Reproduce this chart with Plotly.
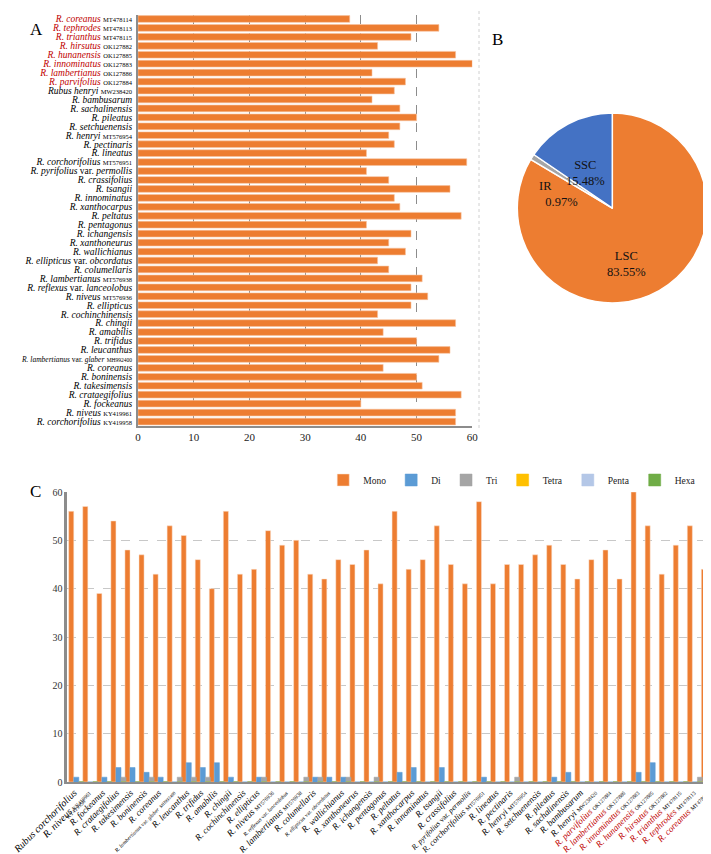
import plotly.graph_objects as go

# ---------------- data (order = panel C, left to right; panel A bottom to top) -------------
species = [
    "R. corchorifolius", "R. niveus", "R. fockeanus", "R. crataegifolius", "R. takesimensis",
    "R. boninensis", "R. coreanus", "R. lambertianus var. glaber", "R. leucanthus", "R. trifidus",
    "R. amabilis", "R. chingii", "R. cochinchinensis", "R. ellipticus", "R. niveus",
    "R. reflexus var. lanceolobus", "R. lambertianus", "R. columellaris", "R. ellipticus var. obcordatus",
    "R. wallichianus", "R. xanthoneurus", "R. ichangensis", "R. pentagonus", "R. peltatus",
    "R. xanthocarpus", "R. innominatus", "R. tsangii", "R. crassifolius", "R. pyrifolius var. permollis",
    "R. corchorifolius", "R. lineatus", "R. pectinaris", "R. henryi", "R. setchuenensis",
    "R. pileatus", "R. sachalinensis", "R. bambusarum", "R. henryi", "R. parvifolius",
    "R. lambertianus", "R. innominatus", "R. hunanensis", "R. hirsutus", "R. trianthus",
    "R. tephrodes", "R. coreanus",
]
accession = [
    "KY419958", "KY419961", "", "", "", "", "", "MH992400", "", "",
    "", "", "", "", "MT576936", "", "MT576938", "", "", "",
    "", "", "", "", "", "", "", "", "", "MT576951",
    "", "", "MT576954", "", "", "", "", "MW238420", "OK127884", "OK127886",
    "OK127883", "OK127885", "OK127882", "MT478115", "MT478113", "MT478114",
]
this_study = ["OK127884", "OK127886", "OK127883", "OK127885", "OK127882",
              "MT478115", "MT478113", "MT478114"]
name_a_override = {37: "Rubus henryi"}
name_c_override = {0: "Rubus corchorifolius", 37: "R. henryi"}

# Panel A: total SSR number
total_ssr = [57, 57, 40, 58, 51, 50, 44, 54, 56, 50, 44, 57, 43, 49, 52, 49, 51, 45, 43, 48,
             45, 49, 41, 58, 47, 46, 56, 45, 41, 59, 41, 46, 45, 47, 50, 47, 42, 46, 48, 42,
             60, 57, 43, 49, 54, 38]

# Panel C: SSR types
mono = [56, 57, 39, 54, 48, 47, 43, 53, 51, 46, 40, 56, 43, 44, 52, 49, 50, 43, 42, 46,
        45, 48, 41, 56, 44, 46, 53, 45, 41, 58, 41, 45, 45, 47, 49, 45, 42, 46, 48, 42,
        60, 53, 43, 49, 53, 44]
di = [1, 0, 1, 3, 3, 2, 1, 0, 4, 3, 4, 1, 0, 1, 0, 0, 0, 1, 1, 1,
      0, 0, 0, 2, 3, 0, 3, 0, 0, 1, 0, 0, 0, 0, 1, 2, 0, 0, 0, 0,
      2, 4, 0, 0, 0, 0]
tri = [0, 0, 0, 1, 0, 1, 0, 1, 1, 1, 0, 0, 0, 1, 0, 0, 1, 1, 0, 1,
       0, 1, 0, 0, 0, 0, 0, 0, 0, 0, 0, 1, 0, 0, 0, 0, 0, 0, 0, 0,
       0, 0, 0, 0, 1, 0]
tetra = [0, 0, 0, 0, 0, 0, 0, 0, 0, 0, 0, 0, 0, 0, 0, 0, 0, 0, 0, 0,
         0, 0, 0, 0, 0, 0, 0, 0, 0, 0, 0, 0, 0, 0, 0, 0, 0, 0, 0, 0,
         0, 0, 0, 0, 0, 0]
penta = list(tetra)
hexa = list(tetra)

# Panel B: regions
regions = ["LSC", "IR", "SSC"]
region_pct = [83.55, 0.97, 15.48]

# ---------------- styling ----------------
SERIF = "Liberation Serif"
ORANGE = "#ED7D31"
RED = "#C00000"
W, H = 711, 854

ids = [f"{s}|{a}" for s, a in zip(species, accession)]

# per-label font sizes in panel C (original figure mixes sizes)
c_size = [10, 10, 9, 9, 9, 9, 9, 5.5, 9, 9,
          9, 9, 9, 9, 9.5, 5.5, 9, 9, 5.5, 9,
          9, 9, 9, 9, 9, 9, 9, 9, 7.5, 8.5,
          9, 9, 9, 9, 9, 9, 9, 9, 9, 9,
          9, 9, 9, 9, 9, 9]
# per-label font sizes in panel A
a_size = [9.5 if " var. glaber" not in s else 7.5 for s in species]


def fmt_name(sp):
    if " var. " in sp:
        a, b = sp.split(" var. ")
        return f"<i>{a}</i> var. <i>{b}</i>"
    return f"<i>{sp}</i>"


def make_label(sp, acc, size, acc_size, red, newline=False):
    nm = fmt_name(sp)
    if red:
        nm = f"<span style='color:{RED}'>{nm}</span>"
    txt = f"<span style='font-size:{size}px'>{nm}</span>"
    if acc:
        sep = "<br>" if newline else " "
        txt += f"{sep}<span style='font-size:{acc_size}px'>{acc}</span>"
    return txt


labels_a = []
labels_c = []
for i, (sp, acc) in enumerate(zip(species, accession)):
    red = acc in this_study
    labels_a.append(make_label(name_a_override.get(i, sp), acc, a_size[i],
                               6.5 if a_size[i] > 8 else 5.5, red))
    labels_c.append(make_label(name_c_override.get(i, sp), acc, c_size[i],
                               5.5 if c_size[i] > 7 else 4.5, red, newline=(i == 0)))

fig = go.Figure()

# Panel A
fig.add_trace(go.Bar(
    x=total_ssr, y=ids, orientation="h", xaxis="x", yaxis="y",
    marker=dict(color=ORANGE, line=dict(color="#F6C3A0", width=0.6)),
    showlegend=False, hoverinfo="x+y",
))

# Panel B
fig.add_trace(go.Pie(
    labels=regions, values=region_pct, sort=False, direction="clockwise", rotation=0,
    marker=dict(colors=[ORANGE, "#A5A5A5", "#4472C4"], line=dict(color="white", width=1.5)),
    textinfo="none", showlegend=False,
    domain=dict(x=[509.3 / W, 699.3 / W], y=[1 - 295 / H, 1 - 105 / H]),
))

# Panel C
series = [("Mono", mono, ORANGE), ("Di", di, "#5B9BD5"), ("Tri", tri, "#A5A5A5"),
          ("Tetra", tetra, "#FFC000"), ("Penta", penta, "#B4C7E7"), ("Hexa", hexa, "#70AD47")]
bw = 0.36
offs = [-0.40, -0.04, 0.32, 0.32, 0.32, 0.32]
for (nm, vals, col), off in zip(series, offs):
    fig.add_trace(go.Bar(
        x=ids, y=vals, name=nm, xaxis="x2", yaxis="y2",
        width=bw, offset=off,
        marker=dict(color=col, line=dict(color="#FBE1CF" if nm == "Mono" else col, width=0.5)),
    ))

grid_grey = "#8C8C8C"
fig.update_layout(
    width=W, height=H,
    margin=dict(l=0, r=0, t=0, b=0),
    paper_bgcolor="white", plot_bgcolor="rgba(0,0,0,0)",
    barmode="overlay", bargap=0.25,
    font=dict(family=SERIF, color="black", size=10),
    xaxis=dict(domain=[130 / W, 464.3 / W], range=[0, 60], dtick=10, tick0=0,
               showgrid=True, gridcolor=grid_grey, griddash="dash", gridwidth=1,
               showline=True, linecolor=grid_grey, linewidth=1.5, zeroline=False,
               ticks="", tickfont=dict(family=SERIF, size=11, color="#222"),
               anchor="y", automargin=False, fixedrange=True),
    yaxis=dict(domain=[1 - 418 / H, 1 - 6.5 / H], type="category",
               categoryorder="array", categoryarray=ids, range=[-0.5, 45.5],
               tickmode="array", tickvals=ids, ticktext=labels_a,
               showline=True, linecolor=grid_grey, linewidth=2, showgrid=False,
               ticks="", ticklabelstandoff=2,
               tickfont=dict(family=SERIF, size=9.5, color="black"),
               anchor="x", automargin=False, fixedrange=True),
    xaxis2=dict(domain=[59.3 / W, 706 / W], type="category",
                categoryorder="array", categoryarray=ids, range=[-0.5, 45.5],
                tickmode="array", tickvals=ids, ticktext=labels_c, tickangle=-45,
                showline=True, linecolor=grid_grey, linewidth=2, showgrid=False,
                ticks="", ticklabelstandoff=0, tickfont=dict(family=SERIF, size=9, color="black"),
                anchor="y2", automargin=False, fixedrange=True),
    yaxis2=dict(domain=[1 - 774 / H, 1 - 484 / H], range=[0, 60], dtick=10, tick0=0,
                showgrid=True, gridcolor="#C8C8C8", griddash="dash", gridwidth=1,
                showline=True, linecolor=grid_grey, linewidth=2.5, zeroline=False,
                ticks="", tickfont=dict(family=SERIF, size=10, color="#333"),
                anchor="x2", automargin=False, fixedrange=True),
    legend=dict(orientation="h", x=0.975, xanchor="right", y=1 - 472 / H, yanchor="middle",
                font=dict(family=SERIF, size=9.5, color="#222"), bgcolor="rgba(0,0,0,0)",
                itemwidth=30, tracegroupgap=0),
    shapes=[dict(type="line", xref="paper", yref="paper", x0=471 / W, x1=471 / W,
                 y0=1 - 420 / H, y1=1, line=dict(color="#D0D0D0", width=1, dash="dot"))],
)

ann = []
for txt, x, y in [("A", 20, 10), ("B", 497, 20), ("C", 20, 484)]:
    ann.append(dict(text=txt, x=x / W, y=1 - y / H, xref="paper", yref="paper",
                    showarrow=False, font=dict(family=SERIF, size=17, color="black")))
# pie labels
pie_lbl = {"LSC": (618, 239, "center", "center"), "IR": (529, 169, "left", "left"),
           "SSC": (577.5, 148, "center", "center")}
for r, p in zip(regions, region_pct):
    x, y, xa, al = pie_lbl[r]
    txt = f"{r}<br>{p:.2f}%" if r != "IR" else f"{r}<br>&nbsp;&nbsp;{p:.2f}%"
    ann.append(dict(text=txt, x=x / W, y=1 - y / H, xref="paper", yref="paper",
                    showarrow=False, align=al, xanchor=xa,
                    font=dict(family=SERIF, size=12.5, color="#111")))
fig.update_layout(annotations=ann)

fig.write_html("out.html")
